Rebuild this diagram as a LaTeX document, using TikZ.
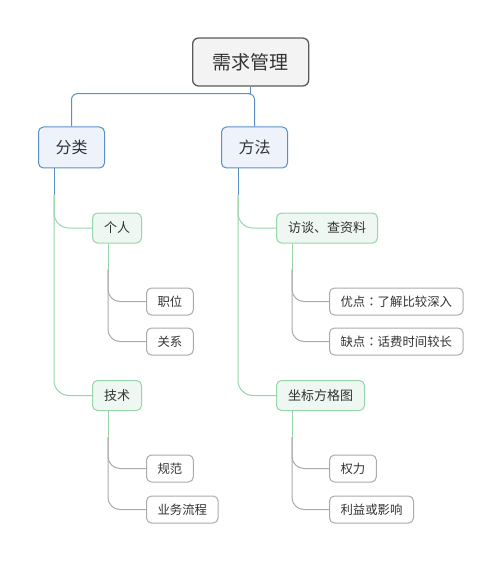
\documentclass[tikz,border=0pt]{standalone}
\usepackage{fontspec}
\newfontfamily\cjk{Noto Sans CJK SC}
\newfontfamily\cjkjp{Noto Sans CJK JP}
\newcommand{\colonmark}{{\cjkjp ：}}
\definecolor{txt}{HTML}{333333}
\definecolor{rootline}{HTML}{5A5A5A}
\definecolor{rootfill}{HTML}{F3F3F3}
\definecolor{blueline}{HTML}{5B8DC9}
\definecolor{bluefill}{HTML}{EEF3FB}
\definecolor{greenline}{HTML}{97D4AA}
\definecolor{greenfill}{HTML}{EEF7F1}
\definecolor{grayline}{HTML}{ABABAB}
\usetikzlibrary{positioning}
\tikzset{
  topic/.style={anchor=west,rounded corners=5pt,text=txt,inner ysep=0pt,font=\cjk},
  rootbox/.style={topic,draw=rootline,fill=rootfill,line width=1.3pt,rounded corners=6pt,
    inner xsep=20pt,minimum height=48pt,font=\cjk\fontsize{19}{22}\selectfont},
  mainbox/.style={topic,draw=blueline,fill=bluefill,line width=1pt,
    inner xsep=17pt,minimum height=41pt,font=\cjk\fontsize{16}{19}\selectfont},
  subbox/.style={topic,draw=greenline,fill=greenfill,line width=1pt,
    inner xsep=11.5pt,minimum height=30pt,font=\cjk\fontsize{13}{16}\selectfont},
  leafbox/.style={topic,draw=grayline,fill=white,line width=1pt,
    inner xsep=11pt,minimum height=27pt,font=\cjk\fontsize{12.4}{15}\selectfont},
  bluelink/.style={draw=blueline,line width=1pt},
  greenlink/.style={draw=greenline,line width=1pt,rounded corners=15pt},
  graylink/.style={draw=grayline,line width=1pt,rounded corners=12pt}
}
\begin{document}
\begin{tikzpicture}[x=1pt,y=-1pt]
\useasboundingbox (0,0) rectangle (501,561);
\node[rootbox] (root) at (192,62) {需求管理};
\node[mainbox] (fenlei) at (38,147.5) {分类};
\node[mainbox] (fangfa) at (221,147.5) {方法};
\node[subbox] (geren) at (92,228) {个人};
\node[subbox] (jishu) at (92,395.5) {技术};
\node[subbox] (fangtan) at (276,228) {访谈、查资料};
\node[subbox] (zuobiao) at (276,395.5) {坐标方格图};
\node[leafbox] (zhiwei) at (146,301.5) {职位};
\node[leafbox] (guanxi) at (146,341.5) {关系};
\node[leafbox] (guifan) at (146,468.5) {规范};
\node[leafbox] (liucheng) at (146,509.5) {业务流程};
\node[leafbox] (youdian) at (329,301.5) {优点\colonmark 了解比较深入};
\node[leafbox] (quedian) at (329,341.5) {缺点\colonmark 话费时间较长};
\node[leafbox] (quanli) at (329,468.5) {权力};
\node[leafbox] (liyi) at (329,509.5) {利益或影响};
% root
\draw[bluelink] (root.south) -- ++(0,7) coordinate (rt);
\draw[bluelink,rounded corners=6pt] (rt) -| (fenlei.north);
\draw[bluelink,rounded corners=6pt] (rt) -| (fangfa.north);
% second level
\draw[bluelink] ([xshift=16pt]fenlei.south west) -- ++(0,27) coordinate (fl);
\draw[greenlink] (fl) |- (geren.west);
\draw[greenlink] (fl) |- (jishu.west);
\draw[bluelink] ([xshift=17pt]fangfa.south west) -- ++(0,27) coordinate (ff);
\draw[greenlink] (ff) |- (fangtan.west);
\draw[greenlink] (ff) |- (zuobiao.west);
% leaves
\foreach \p/\a/\b in {geren/zhiwei/guanxi,jishu/guifan/liucheng,fangtan/youdian/quedian,zuobiao/quanli/liyi}{
  \draw[greenlink] ([xshift=16pt]\p.south west) -- ++(0,26) coordinate (\p-t);
  \draw[graylink] (\p-t) |- (\a.west);
  \draw[graylink] (\p-t) |- (\b.west);
}
\end{tikzpicture}
\end{document}
